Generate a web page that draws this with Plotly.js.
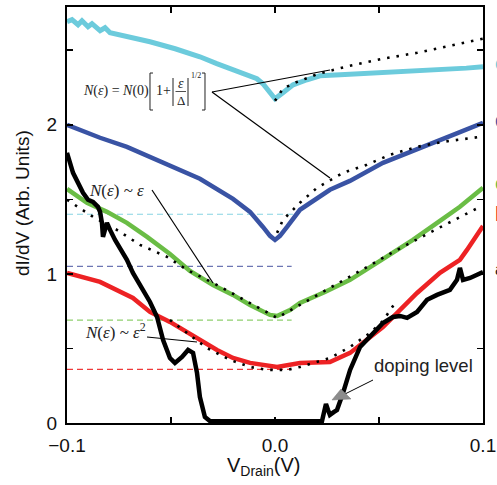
<!DOCTYPE html>
<html>
<head>
<meta charset="utf-8">
<script src="https://cdn.plot.ly/plotly-3.0.1.min.js"></script>
<style>html,body{margin:0;padding:0;background:#fff;}#chart{width:497px;height:485px;}</style>
</head>
<body>
<div id="chart"></div>
<script>
// ---- data (V in volts, dI/dV in arb. units) ----
const V_E = [-0.1,-0.0976,-0.0947,-0.0928,-0.0899,-0.088,-0.0841,-0.0817,-0.0793,-0.07,-0.0601,-0.048,-0.0361,-0.028,-0.0202,-0.012,-0.0087,-0.0058,-0.0024,0,0.0038,0.0087,0.0154,0.0216,0.0313,0.0409,0.05,0.0601,0.072,0.0841,0.092,0.1];
const G_E = [2.691,2.705,2.671,2.698,2.658,2.678,2.631,2.651,2.617,2.59,2.557,2.51,2.456,2.41,2.369,2.322,2.309,2.275,2.215,2.174,2.215,2.268,2.302,2.329,2.336,2.342,2.35,2.356,2.368,2.376,2.38,2.389];

const V_D = [-0.1,-0.0841,-0.0712,-0.0553,-0.0457,-0.0361,-0.0202,-0.012,-0.0058,-0.0024,0,0.0024,0.0058,0.012,0.0264,0.036,0.0519,0.063,0.076,0.088,0.1];
const G_D = [2.0,1.913,1.852,1.752,1.691,1.638,1.503,1.416,1.315,1.255,1.228,1.255,1.315,1.43,1.564,1.624,1.745,1.805,1.879,1.946,2.013];

const V_C = [-0.1,-0.0904,-0.0808,-0.0712,-0.0615,-0.0505,-0.0409,-0.0298,-0.0202,-0.012,-0.0024,0.001,0.0072,0.012,0.024,0.0361,0.0505,0.0663,0.0793,0.0889,0.1];
const G_C = [1.570,1.477,1.416,1.342,1.248,1.134,1.020,0.926,0.859,0.792,0.725,0.718,0.758,0.805,0.879,0.960,1.087,1.228,1.356,1.450,1.577];

const V_B = [-0.1,-0.0841,-0.0683,-0.0601,-0.0505,-0.0442,-0.0361,-0.0279,-0.0202,-0.012,0.001,0.0072,0.012,0.0264,0.0361,0.0519,0.0683,0.0793,0.0889,0.0923,0.1];
const G_B = [1.007,0.946,0.839,0.745,0.678,0.624,0.557,0.490,0.436,0.403,0.376,0.389,0.403,0.409,0.470,0.644,0.872,1.007,1.094,1.161,1.322];

const V_A = [-0.1,-0.0971,-0.0923,-0.0899,-0.0875,-0.0851,-0.0841,-0.0832,-0.0827,-0.0817,-0.0808,-0.0793,-0.0769,-0.0712,-0.0683,-0.0601,-0.0567,-0.0538,-0.0505,-0.0481,-0.0447,-0.0418,-0.0394,-0.0375,-0.0361,-0.0337,-0.0313,-0.02,0,0.012,0.0226,0.0236,0.0245,0.0255,0.0264,0.0284,0.0298,0.0327,0.0361,0.0409,0.0471,0.0519,0.0567,0.0601,0.0635,0.0683,0.0731,0.0779,0.0841,0.0875,0.0889,0.0904,0.0938,0.1];
const G_A = [1.812,1.678,1.544,1.497,1.483,1.450,1.416,1.342,1.248,1.315,1.342,1.295,1.228,1.094,1.007,0.812,0.711,0.557,0.436,0.403,0.443,0.490,0.470,0.336,0.174,0.040,0.013,0.012,0.010,0.012,0.013,0.074,0.128,0.087,0.054,0.074,0.087,0.201,0.356,0.510,0.604,0.671,0.711,0.718,0.705,0.745,0.826,0.859,0.893,0.960,1.040,0.960,0.973,1.013];

// fits (dotted)
const FIT_E_V = [0,0.0038,0.0096,0.0154,0.0207,0.0264,0.0361,0.0519,0.0683,0.0841,0.1];
const FIT_E_G = [2.161,2.242,2.282,2.315,2.342,2.362,2.396,2.443,2.483,2.530,2.577];
const FIT_D_V = [0.001,0.0038,0.012,0.0202,0.0327,0.0442,0.0553,0.0683,0.0808,0.0986];
const FIT_D_G = [1.275,1.362,1.477,1.577,1.678,1.732,1.799,1.852,1.886,1.919];
const FIT_C_V = [-0.1,-0.0875,-0.076,-0.0649,-0.0519,-0.0423,-0.0298,-0.012,0.001,0.012,0.0361,0.0587,0.0779,0.0986];
const FIT_C_G = [1.497,1.383,1.295,1.195,1.114,1.027,0.940,0.805,0.705,0.792,0.980,1.161,1.302,1.450];
const FIT_B_V = [-0.0505,-0.0442,-0.0327,-0.0216,-0.012,-0.0038,0.0058,0.012,0.0264,0.0361,0.0457,0.0519,0.0577];
const FIT_B_G = [0.691,0.624,0.503,0.423,0.376,0.356,0.356,0.376,0.436,0.510,0.604,0.685,0.805];

// dashed zero-bias reference levels
const LEVELS = [1.40, 1.05, 0.69, 0.36];
const LEVEL_END = [0.0086, 0.008, 0.008, 0.0072];
const LEVEL_COLORS = ['#86d4e2', '#6c76b3', '#8fcf6e', '#ee3a3a'];

const SERIES_LABELS = ['e', 'd', 'c', 'b', 'a'];
const X_RANGE = [-0.1, 0.1];
const Y_RANGE = [0, 2.79];

// ---- layout helpers (pixel -> paper) ----
const L = 67, R = 483, T = 7, B = 423;
const px = p => (p - L) / (R - L);
const py = p => (B - p) / (B - T);
function path(pts) { return pts.map((p, i) => (i ? 'L' : 'M') + px(p[0]).toFixed(4) + ',' + py(p[1]).toFixed(4)).join(' '); }
function pline(x0, y0, x1, y1, w, c) {
  return {type: 'line', xref: 'paper', yref: 'paper', x0: px(x0), y0: py(y0), x1: px(x1), y1: py(y1), line: {color: c || '#000', width: w || 1}};
}

const CYAN = '#6ccbdc', BLUE = '#3953a4', GREEN = '#6abd45', RED = '#ed2224';
const dotted = {color: '#000', width: 2.6, dash: '2.5px,7px'};

const traces = [];
LEVELS.forEach((lv, i) => {
  traces.push({x: [-0.1, LEVEL_END[i]], y: [lv, lv], mode: 'lines', line: {color: LEVEL_COLORS[i], width: 1.2, dash: '6px,4px'}, hoverinfo: 'skip'});
});
traces.push({x: V_E, y: G_E, mode: 'lines', line: {color: CYAN, width: 5}});
traces.push({x: V_D, y: G_D, mode: 'lines', line: {color: BLUE, width: 4.5}});
traces.push({x: V_C, y: G_C, mode: 'lines', line: {color: GREEN, width: 4.5}});
traces.push({x: V_B, y: G_B, mode: 'lines', line: {color: RED, width: 4.5}});
traces.push({x: V_A, y: G_A, mode: 'lines', line: {color: '#000', width: 4.5}});
traces.push({x: FIT_E_V, y: FIT_E_G, mode: 'lines', line: dotted});
traces.push({x: FIT_D_V, y: FIT_D_G, mode: 'lines', line: dotted});
traces.push({x: FIT_C_V, y: FIT_C_G, mode: 'lines', line: dotted});
traces.push({x: FIT_B_V, y: FIT_B_G, mode: 'lines', line: dotted});

const serif = 'Liberation Serif, Times New Roman, serif';
const sans = 'Liberation Sans, Arial, Helvetica, sans-serif';
function ann(text, x, y, size, opts) {
  return Object.assign({text: text, xref: 'paper', yref: 'paper', x: px(x), y: py(y), showarrow: false,
    xanchor: 'center', yanchor: 'middle', font: {family: serif, size: size, color: '#222'}}, opts || {});
}

const labelColors = [CYAN, BLUE, GREEN, RED, '#222'];
const labelY = [63, 120, 183, 214, 269];
const labelSize = [20, 20, 20, 20, 16];

const annotations = [
  ann('<i>N</i>(<i>ε</i>) = <i>N</i>(0)', 116, 91, 14),
  ann('1+', 163, 91, 14),
  ann('<i>ε</i>', 180.5, 83, 14),
  ann('Δ', 180.5, 100, 13),
  ann('1/2', 196, 76, 8),
  ann('<i>N</i>(<i>ε</i>) ~ <i>ε</i>', 116, 190, 17),
  ann('<i>N</i>(<i>ε</i>) ~ <i>ε</i><sup>2</sup>', 115, 331, 17),
  ann('doping level', 423, 365, 18.5, {font: {family: sans, size: 18.5, color: '#222'}}),
  ann('dI/dV (Arb. Units)', 22, 203, 19, {textangle: -90, font: {family: sans, size: 19, color: '#111'}}),
  ann('V<sub>Drain</sub>(V)', 263, 466, 20, {font: {family: sans, size: 20, color: '#111'}})
];
SERIES_LABELS.forEach((s, i) => {
  annotations.push(ann(s, 493, labelY[i], labelSize[i], {xanchor: 'left', font: {family: sans, size: labelSize[i], color: labelColors[i]}}));
});

const shapes = [
  {type: 'path', xref: 'paper', yref: 'paper', path: path([[153,73],[150,73],[150,110],[153,110]]), line: {color: '#222', width: 1}},
  {type: 'path', xref: 'paper', yref: 'paper', path: path([[202,73],[205,73],[205,110],[202,110]]), line: {color: '#222', width: 1}},
  pline(173, 78, 173, 106, 1, '#222'),
  pline(188, 78, 188, 106, 1, '#222'),
  pline(175.5, 91.5, 186, 91.5, 0.8, '#222'),
  pline(212, 92, 330, 70, 1.2),
  pline(212, 92, 330, 178, 1.2),
  pline(152, 190, 213, 283, 1.2),
  pline(147, 337, 197, 342, 1.2),
  pline(373, 380, 341, 396, 1),
  {type: 'path', xref: 'paper', yref: 'paper', path: path([[332,400],[341,389],[351,399]]) + ' Z', fillcolor: '#8c8c8c', line: {color: '#777', width: 0.5}}
];

const axisCommon = {ticks: 'inside', ticklen: 6, tickwidth: 1.5, tickcolor: '#000',
  showline: true, linewidth: 2, linecolor: '#000', mirror: 'ticks', showgrid: false, zeroline: false,
  tickfont: {family: sans, size: 19, color: '#111'}, ticklabelstandoff: 4};

const layout = {
  width: 497, height: 485,
  margin: {l: L, r: 497 - R, t: T, b: 485 - B},
  paper_bgcolor: '#fff', plot_bgcolor: '#fff',
  showlegend: false,
  font: {family: sans, size: 18, color: '#111'},
  xaxis: Object.assign({}, axisCommon, {range: X_RANGE, tickmode: 'linear', tick0: -0.1, dtick: 0.1, tickformat: '.1f',
    minor: {dtick: 0.05, tick0: -0.1, ticks: 'inside', ticklen: 6, tickwidth: 1.5, tickcolor: '#000', showgrid: false}}),
  yaxis: Object.assign({}, axisCommon, {range: Y_RANGE, tickmode: 'linear', tick0: 0, dtick: 1, tickformat: 'd',
    minor: {dtick: 0.5, tick0: 0, ticks: 'inside', ticklen: 6, tickwidth: 1.5, tickcolor: '#000', showgrid: false}}),
  annotations: annotations,
  shapes: shapes
};

Plotly.newPlot('chart', traces, layout, {displayModeBar: false, staticPlot: true});
</script>
</body>
</html>
